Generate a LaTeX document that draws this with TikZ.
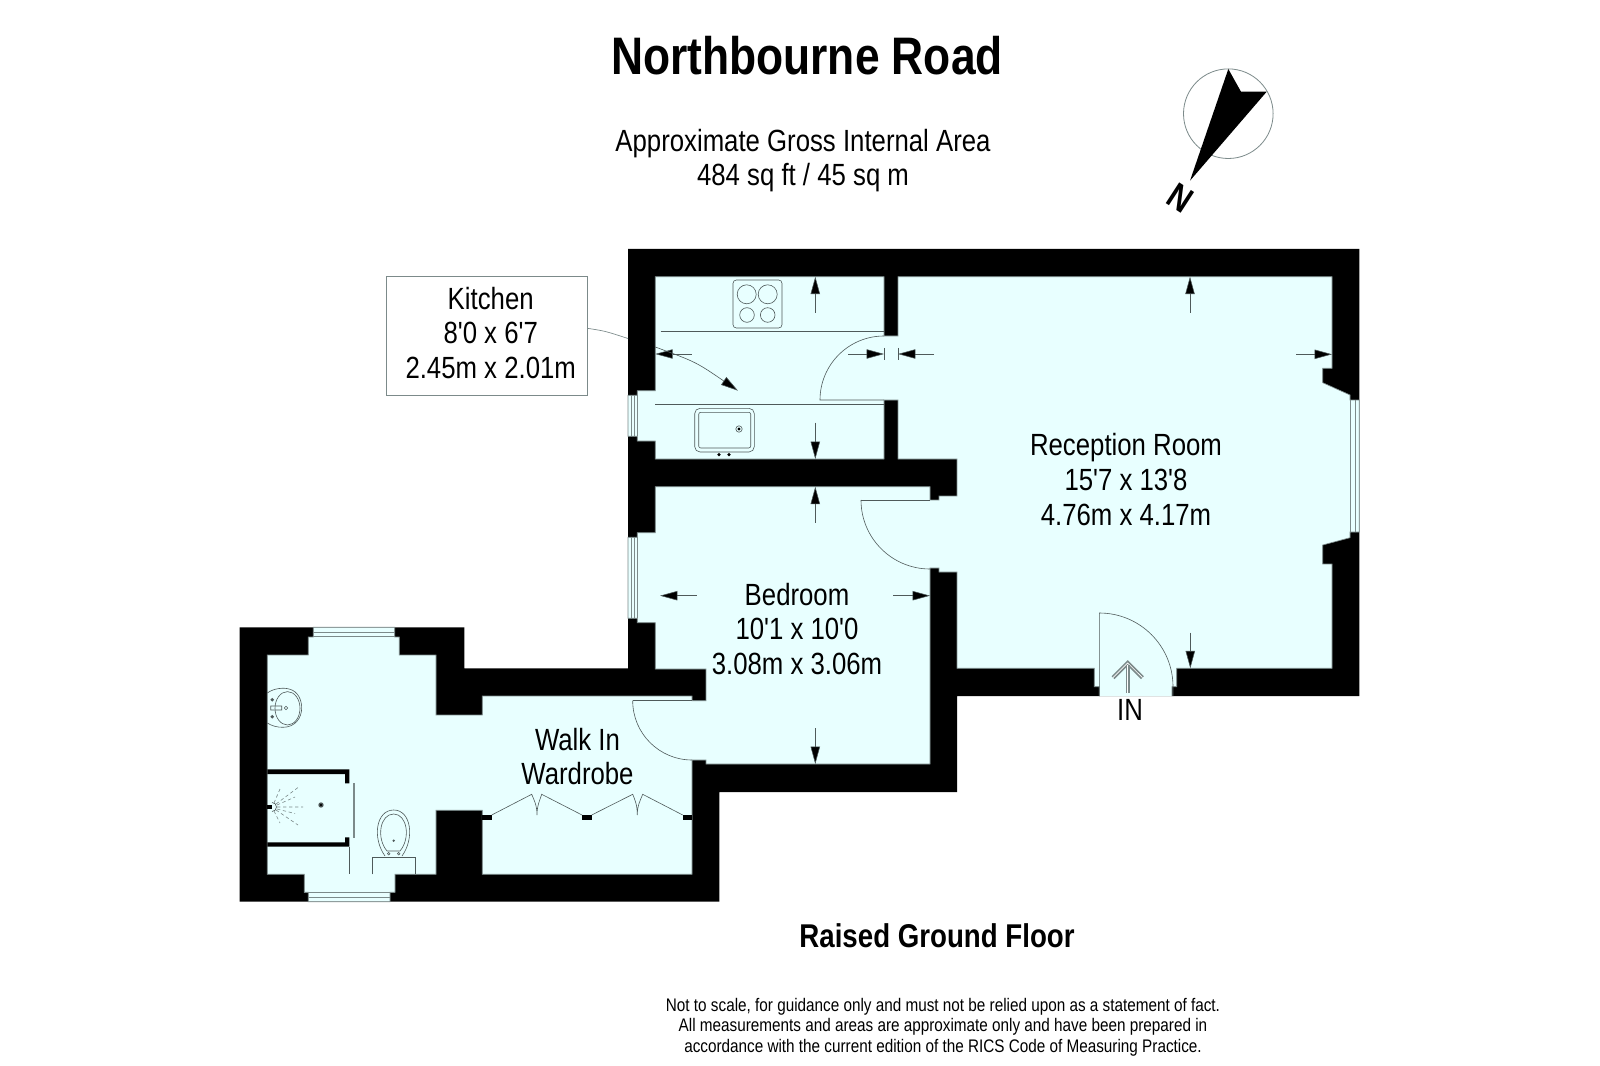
\documentclass[tikz,border=0pt]{standalone}
\usepackage{fontspec}
\setmainfont{Liberation Sans}[FakeStretch=0.84,Ligatures=TeXOff]
\usetikzlibrary{arrows.meta}
\definecolor{roomcol}{HTML}{E8FFFF}
\definecolor{edgecol}{HTML}{7C8A8A}
\definecolor{fixcol}{HTML}{4F5A5A}
\tikzset{
  wallfill/.style={fill=black,draw=none},
  roomfill/.style={fill=roomcol,draw=edgecol,line width=0.5pt,line join=miter},
  fixline/.style={draw=fixcol,line width=0.45pt},
  winline/.style={draw=edgecol,line width=0.7pt},
  dimarrow/.style={draw=fixcol,line width=0.4pt,-{Triangle[length=13pt,width=7pt,fill=black]}},
  roomtext/.style={inner sep=0pt,align=center,text=black,font=\fontsize{23}{26.1}\selectfont},
  headtext/.style={inner sep=0pt,align=center,text=black,font=\fontsize{39.6}{44}\bfseries\selectfont},
  subhead/.style={inner sep=0pt,align=center,text=black,font=\fontsize{24.7}{28}\bfseries\selectfont},
  notetext/.style={inner sep=0pt,align=center,text=black,font=\fontsize{13.65}{15.4}\selectfont},
}
\begin{document}
\begin{tikzpicture}[x=0.75pt,y=-0.75pt]
\useasboundingbox (0,0) rectangle (1600,1066);
\fill[white] (0,0) rectangle (1600,1066);

% outer wall mass
\path[wallfill] (628,249) -- (1359.3,249) -- (1359.3,696) -- (957,696) -- (957,792) -- (719.3,792) -- (719.3,901.7) -- (239.7,901.7) -- (239.7,627.3) -- (464.3,627.3) -- (464.3,668.3) -- (628,668.3) -- cycle;

% interior
\filldraw[roomfill] (1172,696) -- (1172,686.7) -- (1176.7,686.7) -- (1176.7,668.3) -- (1332,668.3) -- (1332,564) -- (1322.7,564) -- (1322.7,545) -- (1350,537.7) -- (1350,532) -- (1359.3,532) -- (1359.3,400) -- (1350,400) -- (1350,395) -- (1322.7,382.7) -- (1322.7,368.3) -- (1332,368.3) -- (1332,276.7) -- (898,276.7) -- (898,336) -- (884,336) -- (884,276.7) -- (655.3,276.7) -- (655.3,390.7) -- (637.3,390.7) -- (637.3,395.3) -- (628,395.3) -- (628,436.3) -- (637.3,436.3) -- (637.3,441) -- (655.3,441) -- (655.3,459) -- (884,459) -- (884,400) -- (898,400) -- (898,459) -- (957,459) -- (957,496) -- (939,496) -- (939,500) -- (930,500) -- (930,486.7) -- (655.3,486.7) -- (655.3,532.7) -- (637.3,532.7) -- (637.3,537.3) -- (628,537.3) -- (628,618.3) -- (637.3,618.3) -- (637.3,622.7) -- (655.3,622.7) -- (655.3,669) -- (706,669) -- (706,700.7) -- (692,700.7) -- (692,696) -- (482.3,696) -- (482.3,715) -- (436,715) -- (436,655) -- (399.3,655) -- (399.3,637) -- (394.7,637) -- (394.7,627.3) -- (313.3,627.3) -- (313.3,637) -- (308.3,637) -- (308.3,655) -- (267.3,655) -- (267.3,874.3) -- (304.3,874.3) -- (304.3,892.3) -- (308.3,892.3) -- (308.3,901.7) -- (390,901.7) -- (390,892.3) -- (395,892.3) -- (395,874.3) -- (436,874.3) -- (436,810.3) -- (482.3,810.3) -- (482.3,874.3) -- (692,874.3) -- (692,760) -- (706,760) -- (706,764) -- (930,764) -- (930,568) -- (939,568) -- (939,572) -- (957,572) -- (957,668.3) -- (1094.3,668.3) -- (1094.3,686.7) -- (1099.3,686.7) -- (1099.3,696);

% windows
\draw[winline] (631.7,395.3) -- (631.7,436.3) (634.7,395.3) -- (634.7,436.3) (637.3,395.3) -- (637.3,436.3);
\draw[winline] (631.7,537.3) -- (631.7,618.3) (634.7,537.3) -- (634.7,618.3) (637.3,537.3) -- (637.3,618.3);
\draw[winline] (1350,400) -- (1350,532) (1355,400) -- (1355,532);
\draw[winline] (313.3,632) -- (394.7,632) (313.3,636.7) -- (394.7,636.7);
\draw[winline] (304.3,892.3) -- (395,892.3) (308.3,897) -- (390,897);

% kitchen counters and door
\draw[fixline] (660.7,331) -- (884,331);
\draw[fixline] (655.3,404) -- (884,404);
\draw[fixline] (884,336) arc[start angle=-90,end angle=-180,radius=64] -- (884,400);

% hob
\draw[fixline,rounded corners=2.5pt] (733,280) rectangle (782,328);
\draw[fixline] (746.7,294.3) circle (9.5) (767.7,294.3) circle (9.5) (747,315) circle (7.3) (767.7,315) circle (7.3);

% sink
\draw[fixline,rounded corners=4pt] (694.7,408.3) rectangle (754.3,452);
\draw[fixline,rounded corners=1.5pt] (698.7,412.3) rectangle (750.7,448);
\draw[fixline] (739,429) circle (3.2);
\fill[black] (739,429) circle (1.6) (719,454.6) circle (1.8) (729,454.6) circle (1.8);

% doors
\draw[fixline] (861,500) -- (930,500);
\draw[fixline] (861,500) arc[start angle=180,end angle=90,radius=69];
\draw[fixline] (632.7,700.7) -- (692,700.7);
\draw[fixline] (632.7,700.7) arc[start angle=180,end angle=90,radius=59.3];
\draw[fixline] (1099.3,696) -- (1099.3,613) arc[start angle=-90,end angle=0,radius=73.7] -- (1173,696);

% entrance arrow
\draw[draw=edgecol,line width=1.3pt,double=white,double distance=0.5pt] (1113,677.7) -- (1127.7,663) -- (1142.5,677.7);
\draw[draw=edgecol,line width=1.3pt,double=white,double distance=0.5pt] (1127.7,665) -- (1127.7,692.7);

% dimension arrows
\draw[dimarrow] (815.3,312.7) -- (815.3,276.7);
\draw[dimarrow] (691.7,354) -- (655.3,354);
\draw[dimarrow] (848,354) -- (884,354);
\draw[dimarrow] (934,354) -- (898,354);
\draw[fixline] (884,348) -- (884,360) (898,348) -- (898,360);
\draw[dimarrow] (815.3,422.7) -- (815.3,459);
\draw[dimarrow] (815.3,522.7) -- (815.3,486.7);
\draw[dimarrow] (696.7,595.7) -- (660,595.7);
\draw[dimarrow] (893,595.7) -- (930,595.7);
\draw[dimarrow] (815.3,728) -- (815.3,764);
\draw[dimarrow] (1190,312.7) -- (1190,276.7);
\draw[dimarrow] (1296,354.3) -- (1332,354.3);
\draw[dimarrow] (1190.3,632.7) -- (1190.3,668.3);

% basin
\draw[fixline] (267.3,693) .. controls (274,688) and (284,687.5) .. (289,689) .. controls (298,691) and (301.7,700) .. (301.7,708) .. controls (301.7,718) and (295,727.3) .. (283,727.3) .. controls (277,727.3) and (272,726) .. (267.3,723);
\draw[fixline] (287.5,708.3) ellipse [x radius=12.5,y radius=16.7];
\fill[fixcol] (272.3,699.7) circle (1.9) (272.3,716.7) circle (1.9);
\draw[fixline] (270.7,706) rectangle (281.7,710) (286,708) circle (1.7);

% shower
\path[wallfill] (267.3,769.3) -- (349.3,769.3) -- (349.3,783.3) -- (345,783.3) -- (345,774) -- (267.3,774) -- cycle;
\path[wallfill] (267.3,846.7) -- (349.3,846.7) -- (349.3,837.3) -- (345,837.3) -- (345,842.3) -- (267.3,842.3) -- cycle;
\draw[draw=edgecol,line width=0.8pt] (354,783) -- (354,837.7);
\draw[fixline] (349.3,846.7) -- (349.3,874.3);
\fill[black] (267.3,805) rectangle (272,809);
\draw[fixline] (272,802.5) arc[start angle=-90,end angle=90,radius=4.5];
\fill[fixcol] (321,805) circle (2.7);
\fill[black] (321,805) circle (1.4);
\draw[draw=edgecol,line width=0.45pt,dash pattern=on 2.5pt off 2pt] (276,804) -- (298,787.5) (277,805) -- (295,797) (277,807) -- (303,807) (277,809) -- (295,813.5) (276,810) -- (298,825) (274,803) -- (280,789) (274,811) -- (280,823);

% toilet
\draw[fixline] (385,856) .. controls (372,838) and (376,810) .. (393.7,810) .. controls (411,810) and (415,838) .. (402,856);
\draw[fixline] (387,851) .. controls (376,838) and (380,814) .. (393.7,814) .. controls (407,814) and (411,838) .. (400,851) -- cycle;
\fill[fixcol] (393.7,840.7) circle (1.3);
\draw[fixline] (388.7,853.7) circle (1.3) (398.7,853.7) circle (1.3);
\draw[fixline] (372.3,874.3) -- (372.3,857.3) -- (415,857.3) -- (415,874.3);

% wardrobe doors
\path[wallfill] (482.3,815) rectangle (491.7,820);
\path[wallfill] (582,815) rectangle (591.7,820);
\path[wallfill] (682.7,815) rectangle (692,820);
\draw[fixline] (491.7,815) -- (531.7,794.3) .. controls (534,800) and (537,805) .. (537,815) .. controls (537,805) and (540,800) .. (541.7,794.3) -- (582,815);
\draw[fixline] (591.7,815) -- (632.7,794.3) .. controls (635,800) and (637.3,805) .. (637.3,815) .. controls (637.3,805) and (640.5,800) .. (642.7,794.3) -- (682.7,815);

% compass
\draw[draw=edgecol,line width=0.6pt] (1228.3,113.7) circle (44.8);
\fill[black] (1228.3,69) -- (1241,91.7) -- (1266.7,91.7) -- (1190,180.7) -- cycle;
\node[inner sep=0pt,rotate=-33,font=\fontsize{27}{30}\bfseries\selectfont] (northmark) at (1180.5,198) {N};

% callout
\node[draw=edgecol,line width=0.6pt,fill=white,minimum width=151pt,minimum height=89pt,inner sep=0pt] (kitchenbox) at (486.6,335.7) {};
\node[roomtext] (kitchenlabel) at (490.7,333) {Kitchen\\8'0 x 6'7\\2.45m x 2.01m};
\coordinate (wallin) at (628,338.5);
\coordinate (wallout) at (655.3,347);
\coordinate (calltip) at (738,390.7);
\draw[draw=edgecol,line width=0.5pt] ([yshift=5.5pt]kitchenbox.east) .. controls (605,331) .. (wallin);
\draw[fixline,-{Triangle[length=13pt,width=7pt,fill=black]}] (wallout) .. controls (696,362) .. (calltip);

% room labels
\node[roomtext] (receptionlabel) at (1126,479.5) {Reception Room\\15'7 x 13'8\\4.76m x 4.17m};
\node[roomtext] (bedroomlabel) at (797,629) {Bedroom\\10'1 x 10'0\\3.08m x 3.06m};
\node[roomtext] (wardrobelabel) at (577.5,756.5) {Walk In\hspace{4pt}\\Wardrobe};
\node[roomtext] (inlabel) at (1130,710) {IN};

% headings
\node[headtext] (titlelabel) at (807,56) {Northbourne Road};
\node[roomtext] (arealabel) at (803,160.5) {Approximate Gross Internal Area\\484 sq ft / 45 sq m};
\node[subhead] (floorlabel) at (937,936) {Raised Ground Floor};
\node[notetext] (notelabel) at (943,1027) {Not to scale, for guidance only and must not be relied upon as a statement of fact.\\All measurements and areas are approximate only and have been prepared in\\accordance with the current edition of the RICS Code of Measuring Practice.};
\end{tikzpicture}
\end{document}
